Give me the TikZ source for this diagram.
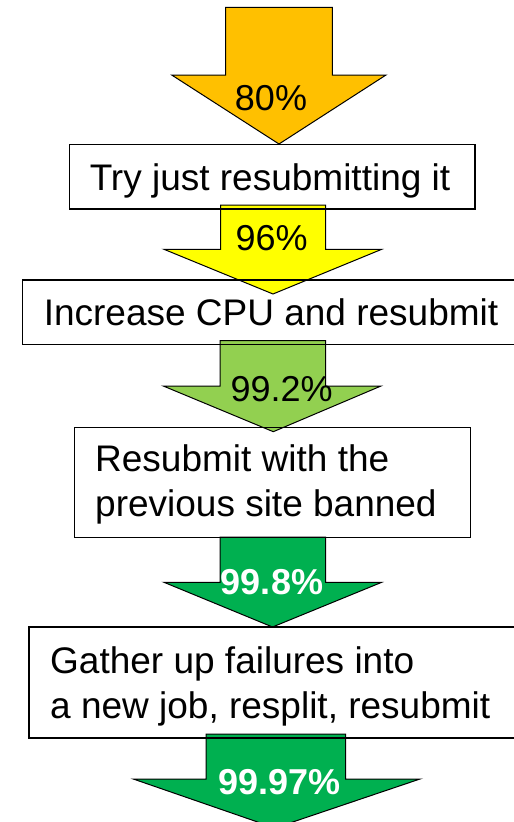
\documentclass[tikz,border=0pt]{standalone}
\usepackage{fontspec}
\setmainfont{Liberation Sans}
\definecolor{stepOrange}{HTML}{FFC000}
\definecolor{stepYellow}{HTML}{FFFF00}
\definecolor{stepLime}{HTML}{92D050}
\definecolor{stepGreen}{HTML}{00B050}
\begin{document}
\begin{tikzpicture}[x=1pt,y=-1pt,
  blockarrow/.style={draw=black, line width=1pt, line join=miter},
  stepbox/.style={draw=black, line width=1.3pt, fill=none, inner sep=0pt},
  txt/.style={font=\fontsize{37}{45}\selectfont, inner sep=0pt},
  pct/.style={inner sep=0pt, anchor=base, font=\fontsize{36}{45}\selectfont},
  pctw/.style={inner sep=0pt, anchor=base, font=\fontsize{36}{45}\selectfont\bfseries, text=white}]
\useasboundingbox (0,0) rectangle (514,822);
\clip (0,0) rectangle (514,822);

% block arrows between the steps
\coordinate (a1) at (279,144);
\fill[stepOrange, blockarrow] (225.7,7.3) -- (332.3,7.3) -- (332.3,75) -- (386,75)
  -- (a1) -- (171.7,75) -- (225.7,75) -- cycle;
\coordinate (a2) at (273,294);
\fill[stepYellow, blockarrow] (220.7,205) -- (325.7,205) -- (325.7,249.3) -- (381.7,249.3)
  -- (a2) -- (164,249.3) -- (220.7,249.3) -- cycle;
\coordinate (a3) at (273.3,431.7);
\fill[stepLime, blockarrow] (220,340.7) -- (325.7,340.7) -- (325.7,386) -- (381,386)
  -- (a3) -- (163.3,386) -- (220,386) -- cycle;
\coordinate (a4) at (272.5,627);
\fill[stepGreen, blockarrow] (220,537) -- (325.7,537) -- (325.7,582.3) -- (381.7,582.3)
  -- (a4) -- (164,582.3) -- (220,582.3) -- cycle;
\coordinate (a5) at (275,828);
\fill[stepGreen, blockarrow] (206,734) -- (345.7,734) -- (345.7,779) -- (420,779)
  -- (a5) -- (133.3,779) -- (206,779) -- cycle;

% step boxes (outlines only, drawn over the arrows)
\node[stepbox, minimum width=405.7pt, minimum height=64.7pt] (box1) at (272.15,176.65) {};
\node[stepbox, minimum width=507.7pt, minimum height=64.3pt] (box2) at (276.15,312.15) {};
\node[stepbox, minimum width=396.4pt, minimum height=110pt] (box3) at (272.5,482.3) {};
\node[stepbox, line width=2pt, minimum width=500.7pt, minimum height=110.4pt] (box4) at (279.65,682.5) {};

% step texts
\node[txt, anchor=base] (t1) at (270,190.7) {Try just resubmitting it};
\node[txt, anchor=base] (t2) at (271,325) {Increase CPU and resubmit};
\node[txt, anchor=base west] (t3a) at (95,471.7) {Resubmit with the};
\node[txt, anchor=base west] (t3b) at (95,516.7) {previous site banned};
\node[txt, anchor=base west] (t4a) at (50,673) {Gather up failures into};
\node[txt, anchor=base west] (t4b) at (50,718) {a new job, resplit, resubmit};

% success rates
\node[pct] (p1) at (271,110) {80\%};
\node[pct] (p2) at (271.7,250) {96\%};
\node[pct] (p3) at (281.7,401.7) {99.2\%};
\node[pctw] (p4) at (272,594) {99.8\%};
\node[pctw] (p5) at (279.2,794.3) {99.97\%};
\end{tikzpicture}
\end{document}
